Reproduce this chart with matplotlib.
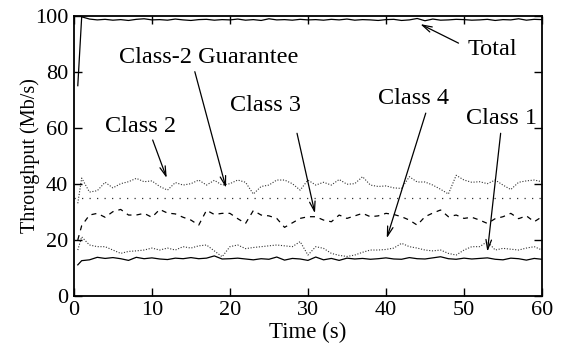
import matplotlib
matplotlib.use("Agg")
import matplotlib.pyplot as plt
import numpy as np

plt.rcParams['font.family'] = ['Liberation Serif', 'DejaVu Serif']

# sample times (s)
time = np.concatenate([[0.5], np.arange(1, 61)])

total = [75.0,
         99.6, 98.8, 98.5, 98.7, 98.4, 98.6, 98.3, 98.7, 98.9, 98.5,
         98.6, 98.4, 98.8, 98.5, 98.3, 98.6, 98.7, 98.4, 98.6, 98.5,
         98.8, 98.4, 98.6, 98.3, 98.9, 98.5, 98.6, 98.4, 98.7, 98.5,
         98.6, 98.4, 98.7, 98.5, 98.8, 98.4, 98.6, 98.5, 98.3, 98.6,
         98.7, 98.3, 98.5, 99.0, 98.2, 98.8, 98.4, 98.5, 98.7, 98.6,
         98.4, 98.5, 98.7, 98.3, 98.6, 98.5, 98.9, 98.4, 98.7, 98.6]
class2 = [33.0,
          42.0, 37.0, 37.5, 40.5, 38.5, 40.0, 40.7, 41.9, 40.7, 41.0,
          39.0, 37.7, 40.4, 39.5, 40.0, 41.3, 39.5, 41.2, 39.5, 40.0,
          41.3, 40.5, 36.3, 39.0, 39.5, 41.3, 41.3, 40.0, 37.7, 41.3,
          39.5, 40.5, 39.5, 41.5, 39.8, 40.0, 42.5, 39.5, 39.0, 39.2,
          38.5, 38.3, 42.5, 40.6, 40.6, 39.5, 38.0, 36.3, 43.0, 41.3,
          40.5, 40.7, 40.0, 41.3, 39.5, 37.9, 40.5, 41.0, 41.3, 40.7]
class3 = [19.9,
          25.0, 28.8, 29.4, 28.0, 30.0, 30.8, 28.8, 28.8, 29.4, 28.0,
          30.8, 29.5, 29.2, 28.0, 27.0, 25.2, 30.5, 29.0, 29.4, 29.4,
          27.5, 25.8, 30.4, 28.8, 28.5, 27.6, 24.4, 26.0, 27.6, 28.2,
          28.2, 27.0, 26.4, 28.8, 27.6, 28.5, 29.4, 28.2, 28.5, 29.4,
          29.0, 28.2, 27.0, 25.2, 28.2, 29.5, 30.6, 28.2, 28.8, 27.6,
          28.0, 27.0, 25.8, 27.5, 28.2, 29.4, 27.5, 28.5, 26.4, 28.2]
class4 = [16.3,
          21.0, 18.1, 17.5, 17.5, 16.3, 15.1, 15.8, 16.0, 16.3, 17.0,
          16.3, 17.0, 16.3, 17.5, 17.0, 17.8, 18.1, 16.0, 13.9, 17.5,
          18.1, 16.8, 17.2, 17.5, 17.8, 18.1, 17.8, 17.5, 19.3, 14.5,
          17.5, 16.9, 15.1, 14.4, 14.0, 14.5, 15.5, 16.3, 16.3, 16.5,
          17.0, 18.7, 17.5, 17.0, 16.3, 16.0, 16.3, 15.1, 14.5, 16.3,
          17.5, 17.5, 19.3, 16.3, 16.9, 16.6, 16.3, 17.0, 17.5, 16.3]
class1 = [11.0,
          12.5, 12.8, 13.7, 13.3, 13.6, 13.2, 12.6, 13.7, 13.2, 13.5,
          13.1, 12.9, 13.4, 13.2, 13.6, 13.2, 13.4, 14.2, 13.1, 13.2,
          13.4, 13.1, 12.8, 13.2, 13.0, 13.8, 12.7, 13.3, 13.1, 12.6,
          13.8, 12.8, 13.3, 12.6, 13.4, 13.1, 13.3, 13.0, 13.2, 13.5,
          13.1, 13.0, 13.6, 13.2, 13.1, 13.5, 13.9, 13.2, 13.0, 13.4,
          13.1, 13.3, 13.5, 13.0, 12.8, 13.4, 13.2, 12.7, 13.3, 13.0]
guarantee = 35

# label text, text position (t, value), arrow tail and tip (t, value)
labels = ["Total", "Class-2 Guarantee", "Class 2", "Class 3", "Class 4", "Class 1"]
text_pos = [(53.7, 87.8), (17.3, 84.9), (8.6, 60.4), (24.5, 68.0), (43.5, 70.6), (54.8, 63.4)]
tip_pos = [(44.4, 97.0), (19.5, 38.5), (11.9, 42.0), (30.9, 29.4), (40.1, 20.5), (53.0, 15.7)]
tail_pos = [(49.3, 90.2), (15.5, 80.0), (10.1, 55.6), (28.6, 58.0), (45.1, 65.2), (54.7, 58.0)]

fig = plt.figure(figsize=(5.64, 3.45), dpi=100)
ax = fig.add_axes([0.131, 0.143, 0.83, 0.8115])

ax.plot(time, total, color='black', lw=0.9)
ax.plot(time, class2, color='#333333', lw=0.8, linestyle=(0, (1, 1.5)))
ax.axhline(guarantee, color='#333333', lw=0.9, linestyle=(0, (1, 5)))
ax.plot(time, class3, color='black', lw=0.9, linestyle=(0, (4, 4)))
ax.plot(time, class4, color='#333333', lw=0.8, linestyle=(0, (1, 1.5)))
ax.plot(time, class1, color='black', lw=0.9)

for lab, tp, tip, tail in zip(labels, text_pos, tip_pos, tail_pos):
    ax.text(tp[0], tp[1], lab, fontsize=17.5, ha='center', va='center')
    ax.annotate('', xy=tip, xytext=tail,
                arrowprops=dict(arrowstyle='->,head_length=0.7,head_width=0.2',
                                color='black', lw=0.9, shrinkA=0, shrinkB=0))

ax.set_xlim(0, 60)
ax.set_ylim(0, 100)
ax.set_xticks(np.arange(0, 61, 10))
ax.set_yticks(np.arange(0, 101, 20))
ax.tick_params(direction='in', length=6, width=1, labelsize=16,
               top=True, right=True, pad=4)
for s in ax.spines.values():
    s.set_linewidth(1.3)
ax.set_xlabel("Time (s)", fontsize=16.5)
ax.set_ylabel("Throughput (Mb/s)", fontsize=14.5)
ax.xaxis.set_label_coords(0.5, -0.095)
ax.yaxis.set_label_coords(-0.073, 0.5)

fig.savefig("out.png", dpi=100)
